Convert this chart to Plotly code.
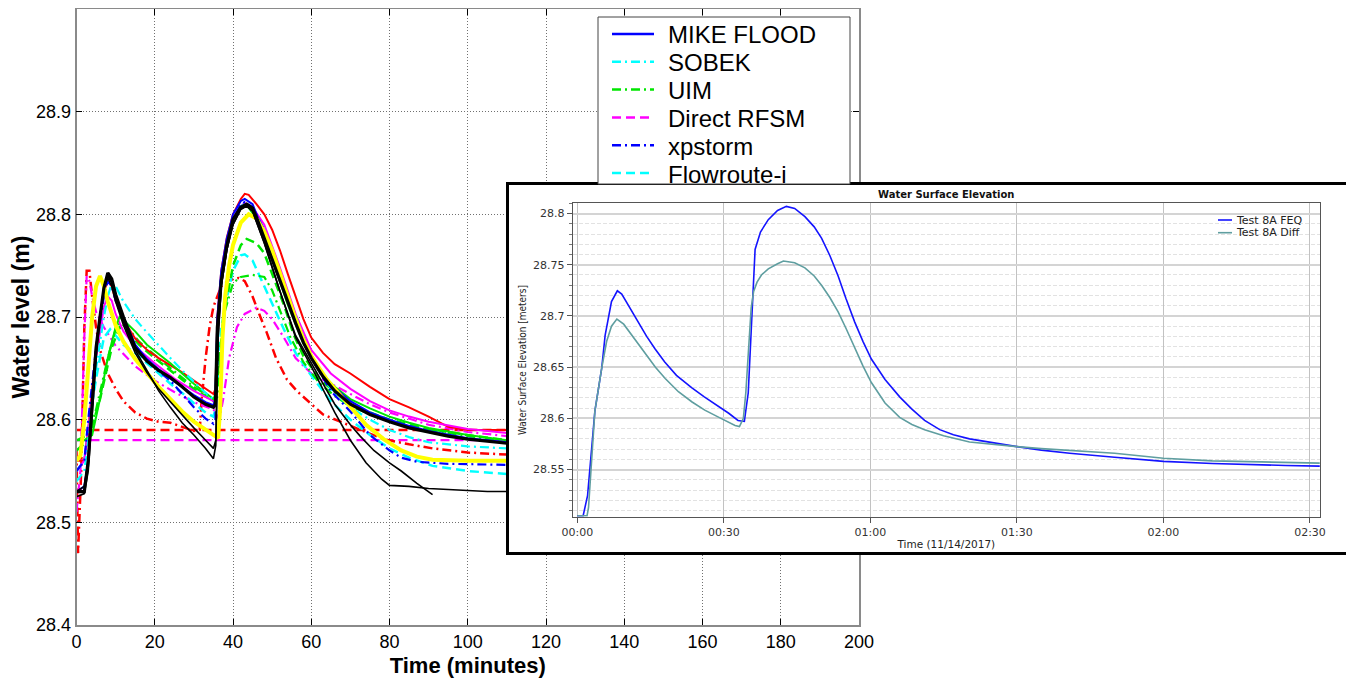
import plotly.graph_objects as go

W, H = 1354, 680
OFF = 8  # the page places the figure 8px from the top-left corner


def px(x):
    return (x - OFF) / W


def py(y):
    return 1 - (y - OFF) / H


# ---------------- main chart data: (time in minutes, water level in m) ----------------
mike_flood = [(0, 28.53), (2, 28.535), (3, 28.56), (4, 28.62), (5, 28.67), (6, 28.70), (7, 28.725), (8, 28.74),
              (9, 28.735), (10, 28.72), (12, 28.70), (15, 28.673), (18, 28.659), (21, 28.649), (24, 28.64),
              (27, 28.632), (30, 28.624), (33, 28.617), (35, 28.614), (35.5, 28.62), (36, 28.70), (37, 28.745),
              (38.4, 28.776), (40, 28.80), (42, 28.813), (43, 28.815), (45, 28.81), (48, 28.781), (52, 28.738),
              (56, 28.697), (60, 28.663), (63, 28.644), (66, 28.631), (70, 28.618), (75, 28.607), (80, 28.60),
              (85, 28.594), (90, 28.589), (100, 28.582), (110, 28.578)]
sobek = [(0, 28.54), (2, 28.55), (3, 28.58), (5, 28.65), (7, 28.70), (8, 28.72), (9, 28.733), (10, 28.73),
         (12, 28.715), (15, 28.698), (18, 28.685), (21, 28.672), (24, 28.66), (27, 28.648), (30, 28.637),
         (33, 28.626), (35, 28.62), (35.5, 28.622), (36, 28.69), (37, 28.74), (38.4, 28.77), (40, 28.795),
         (42, 28.808), (43, 28.81), (45, 28.805), (48, 28.785), (52, 28.742), (56, 28.70), (60, 28.66),
         (65, 28.63), (70, 28.612), (75, 28.60), (80, 28.59), (85, 28.583), (90, 28.578), (100, 28.574),
         (110, 28.572)]
uim = [(0, 28.58), (3, 28.585), (5, 28.61), (8, 28.66), (10, 28.688), (11, 28.694), (13, 28.69), (16, 28.676),
       (20, 28.663), (25, 28.647), (30, 28.632), (35, 28.62), (36, 28.622), (37.5, 28.70), (40, 28.733),
       (42, 28.739), (45, 28.741), (48, 28.739), (50, 28.726), (52, 28.706), (54.6, 28.681), (58, 28.656),
       (62, 28.636), (66, 28.623), (70, 28.613), (80, 28.598), (90, 28.59), (100, 28.584), (110, 28.579)]
direct_rfsm = [(0, 28.58), (110, 28.58)]
xpstorm = [(0, 28.55), (2, 28.56), (3, 28.60), (5, 28.67), (7, 28.72), (8, 28.735), (9, 28.73), (10, 28.716),
           (12, 28.696), (15, 28.671), (18, 28.658), (21, 28.647), (24, 28.638), (27, 28.625), (30, 28.612),
           (33, 28.601), (35, 28.596), (35.5, 28.60), (36, 28.68), (37, 28.74), (38.4, 28.77), (40, 28.795),
           (42, 28.81), (43, 28.812), (45, 28.807), (48, 28.785), (52, 28.74), (56, 28.696), (60, 28.66),
           (65, 28.628), (70, 28.608), (75, 28.585), (80, 28.57), (83, 28.563), (87, 28.559), (95, 28.557),
           (110, 28.556)]
flowroute_i = [(0, 28.55), (2, 28.56), (3, 28.59), (5, 28.64), (7, 28.68), (8.6, 28.688), (10, 28.682),
               (12, 28.673), (15, 28.665), (18, 28.655), (21, 28.645), (24, 28.635), (27, 28.626), (30, 28.616),
               (33, 28.607), (35, 28.603), (35.5, 28.61), (36, 28.64), (37, 28.69), (38.5, 28.72), (40, 28.745),
               (42, 28.76), (43, 28.761), (45, 28.755), (48, 28.73), (50, 28.712), (53, 28.688), (56, 28.665),
               (60, 28.643), (65, 28.618), (70, 28.60), (75, 28.585), (80, 28.572), (85, 28.563), (91, 28.555),
               (100, 28.55), (110, 28.547)]
red_solid = [(0, 28.56), (2, 28.56), (3, 28.59), (4, 28.63), (5, 28.67), (6, 28.70), (7, 28.725), (8, 28.735),
             (9, 28.73), (10, 28.716), (12, 28.697), (15, 28.679), (18, 28.668), (21, 28.66), (24, 28.653),
             (27, 28.646), (30, 28.638), (33, 28.63), (35, 28.625), (35.5, 28.63), (36, 28.70), (37, 28.745),
             (38.4, 28.777), (40, 28.80), (42, 28.815), (43, 28.82), (44, 28.819), (46, 28.81), (48, 28.80),
             (50, 28.785), (52, 28.765), (54, 28.742), (56, 28.72), (58, 28.698), (60, 28.68), (63, 28.665),
             (66, 28.654), (70, 28.645), (75, 28.632), (80, 28.62), (85, 28.612), (90, 28.603), (95, 28.593),
             (100, 28.59), (110, 28.59)]
red_dashdot = [(0, 28.57), (0.4, 28.47), (1.2, 28.55), (2, 28.69), (2.6, 28.745), (3.3, 28.745), (4, 28.72),
               (5, 28.69), (6, 28.668), (8, 28.645), (10, 28.63), (12, 28.618), (15, 28.607), (18, 28.601),
               (21, 28.598), (24, 28.597), (27, 28.593), (30, 28.589), (31.5, 28.59), (32, 28.62), (33, 28.66),
               (34, 28.69), (35, 28.71), (37, 28.73), (39, 28.736), (41.5, 28.738), (43, 28.735), (45, 28.72),
               (47, 28.70), (48.6, 28.685), (51, 28.66), (53.8, 28.639), (56.3, 28.628), (60, 28.615),
               (63, 28.605), (70, 28.594), (78.5, 28.581), (85, 28.576), (91, 28.572), (100, 28.568),
               (110, 28.566)]
red_dashed = [(0, 28.59), (110, 28.59)]
magenta_solid = [(0, 28.55), (2, 28.56), (3, 28.59), (5, 28.66), (7, 28.71), (8, 28.72), (9, 28.716),
                 (10, 28.703), (12, 28.686), (15, 28.671), (20, 28.655), (25, 28.64), (30, 28.628), (35, 28.618),
                 (35.5, 28.622), (36, 28.69), (37, 28.74), (38.4, 28.772), (40, 28.796), (42, 28.808),
                 (43, 28.811), (45, 28.807), (48, 28.79), (52, 28.748), (56, 28.703), (60, 28.668), (65, 28.645),
                 (70, 28.63), (75, 28.618), (80, 28.609), (85, 28.603), (90, 28.598), (100, 28.591),
                 (110, 28.587)]
magenta_dashdot = [(0, 28.51), (1, 28.55), (2, 28.68), (2.6, 28.74), (3.3, 28.735), (4, 28.72), (5, 28.705),
                   (7, 28.69), (10, 28.672), (15, 28.652), (20, 28.638), (25, 28.627), (30, 28.617), (35, 28.61),
                   (36.5, 28.60), (37.5, 28.62), (39, 28.66), (41, 28.69), (43, 28.703), (46, 28.709),
                   (48, 28.706), (50, 28.698), (53, 28.68), (56, 28.66), (60, 28.645), (65, 28.635), (70, 28.625),
                   (75, 28.615), (80, 28.607), (90, 28.595), (100, 28.588), (110, 28.584)]
green_solid = [(0, 28.58), (2, 28.58), (4, 28.585), (6, 28.62), (8, 28.66), (10, 28.69), (11, 28.70),
               (12, 28.697), (15, 28.686), (18, 28.673), (21, 28.664), (24, 28.655), (27, 28.645), (30, 28.635),
               (33, 28.626), (35, 28.62), (35.5, 28.625), (36, 28.69), (37, 28.74), (38.4, 28.77), (40, 28.795),
               (42, 28.806), (43.5, 28.809), (46, 28.796), (50, 28.757), (54, 28.712), (58, 28.674),
               (62, 28.647), (66, 28.632), (70, 28.62), (75, 28.611), (80, 28.603), (85, 28.597), (90, 28.592),
               (100, 28.585), (110, 28.58)]
green_dashed = [(0, 28.57), (3, 28.58), (6, 28.62), (9, 28.67), (11, 28.69), (13, 28.686), (16, 28.673),
                (20, 28.66), (25, 28.645), (30, 28.63), (35, 28.618), (35.5, 28.62), (36.5, 28.66), (38, 28.71),
                (40, 28.75), (42, 28.77), (43.5, 28.776), (46, 28.772), (48, 28.762), (50, 28.742),
                (53, 28.712), (55.5, 28.683), (58, 28.662), (62, 28.64), (66, 28.627), (70, 28.614),
                (80, 28.60), (90, 28.591), (100, 28.585), (110, 28.58)]
yellow_thick = [(0, 28.56), (1, 28.565), (2, 28.60), (3, 28.65), (4, 28.70), (5, 28.73), (6, 28.74), (7, 28.73),
                (8, 28.715), (10, 28.692), (12, 28.676), (15, 28.659), (18, 28.645), (21, 28.632), (24, 28.62),
                (27, 28.608), (30, 28.598), (33, 28.59), (35, 28.585), (36.2, 28.582), (36.7, 28.61),
                (37.3, 28.68), (38, 28.72), (39, 28.75), (40, 28.77), (42, 28.792), (44, 28.80), (46, 28.796),
                (48, 28.783), (50, 28.765), (52, 28.743), (54, 28.72), (56, 28.698), (58, 28.678),
                (60, 28.662), (64, 28.639), (70, 28.613), (74, 28.595), (78.5, 28.581), (83, 28.57),
                (87, 28.564), (91, 28.561), (100, 28.56), (110, 28.56)]
black_thin_a = [(0, 28.525), (2, 28.528), (3, 28.55), (4, 28.61), (5, 28.66), (6, 28.70), (7, 28.73), (8, 28.74),
                (9, 28.733), (10, 28.718), (12, 28.695), (15, 28.668), (18, 28.648), (21, 28.628), (24, 28.612),
                (27, 28.597), (30, 28.585), (33, 28.572), (35, 28.562), (35.6, 28.575), (36.2, 28.68),
                (37, 28.73), (38.4, 28.765), (40, 28.79), (42, 28.805), (43.5, 28.808), (45, 28.803),
                (48, 28.772), (52, 28.725), (56, 28.68), (60, 28.652), (63, 28.63), (66, 28.607), (70, 28.58),
                (74, 28.558), (78, 28.542), (80, 28.536), (85, 28.535), (90, 28.533), (95, 28.532),
                (100, 28.531), (105, 28.53), (110, 28.53)]
black_thin_b = [(0, 28.53), (2, 28.535), (3, 28.56), (4, 28.615), (5, 28.665), (6, 28.70), (7, 28.728),
                (8, 28.738), (9, 28.73), (10, 28.715), (12, 28.692), (15, 28.665), (18, 28.646), (21, 28.63),
                (24, 28.617), (27, 28.604), (30, 28.592), (33, 28.58), (35, 28.572), (35.6, 28.58), (36.2, 28.68),
                (37, 28.73), (38.4, 28.765), (40, 28.79), (42, 28.805), (43.5, 28.808), (45, 28.803),
                (48, 28.772), (52, 28.725), (56, 28.682), (60, 28.655), (63, 28.635), (66, 28.615), (70, 28.595),
                (72.5, 28.584), (76, 28.57), (80, 28.558), (83, 28.55), (87, 28.538), (91, 28.527)]
black_thick = [(0, 28.53), (2, 28.53), (3, 28.56), (4, 28.62), (5, 28.67), (6, 28.70), (7, 28.728), (8, 28.743),
               (9, 28.737), (10, 28.722), (12, 28.70), (15, 28.67), (18, 28.657), (21, 28.648), (24, 28.641),
               (27, 28.632), (30, 28.622), (33, 28.615), (35, 28.612), (35.5, 28.615), (36, 28.69),
               (37, 28.735), (38.4, 28.769), (40, 28.795), (42, 28.807), (43.5, 28.81), (45, 28.806),
               (46, 28.797), (48, 28.777), (50, 28.756), (52, 28.735), (54, 28.715), (56, 28.694),
               (58, 28.675), (60, 28.66), (63, 28.642), (66, 28.628), (70, 28.615), (75, 28.605), (80, 28.598),
               (85, 28.592), (90, 28.588), (95, 28.584), (100, 28.581), (105, 28.579), (110, 28.577)]

x_ticks = [0, 20, 40, 60, 80, 100, 120, 140, 160, 180, 200]
y_ticks = [28.4, 28.5, 28.6, 28.7, 28.8, 28.9]
y_ticklabels = ["28.4", "28.5", "28.6", "28.7", "28.8", "28.9"]
legend_names = ["MIKE FLOOD", "SOBEK", "UIM", "Direct RFSM", "xpstorm", "Flowroute-i"]

# ---------------- inset data: (minutes since 00:00, elevation in m) ----------------
feq = [(0, 28.505), (1.2, 28.505), (2.1, 28.5245), (3.6, 28.607), (5.0, 28.649), (5.7, 28.681), (7.0, 28.714),
       (8.2, 28.7246), (9.1, 28.7214), (10.5, 28.71), (12.5, 28.694), (14.2, 28.68), (15.9, 28.668),
       (17.9, 28.655), (20.3, 28.642), (23.4, 28.63), (26.0, 28.621), (28.9, 28.612), (31.0, 28.605),
       (32.9, 28.598), (34.2, 28.597), (35.0, 28.625), (35.7, 28.70), (36.4, 28.765), (37.5, 28.782),
       (39.1, 28.794), (41.0, 28.803), (42.8, 28.807), (44.5, 28.805), (46.6, 28.797), (48.5, 28.787),
       (50.0, 28.776), (51.7, 28.759), (53.4, 28.739), (55.0, 28.717), (56.8, 28.694), (58.5, 28.675),
       (60.2, 28.658), (63.0, 28.638), (66.0, 28.621), (68.5, 28.609), (71.1, 28.598), (74.2, 28.589),
       (77.0, 28.584), (80.3, 28.580), (85.0, 28.576), (90.0, 28.5724), (95.0, 28.569), (100.8, 28.566),
       (110.0, 28.562), (120.0, 28.558), (130.0, 28.556), (138.3, 28.5547), (145.0, 28.554), (152.0, 28.5534)]
diff = [(0, 28.505), (2.0, 28.505), (2.3, 28.513), (3.6, 28.607), (5.0, 28.649), (6.0, 28.675), (7.0, 28.69),
        (8.1, 28.697), (9.5, 28.692), (11.5, 28.679), (13.9, 28.663), (16.0, 28.65), (18.0, 28.639),
        (20.7, 28.626), (23.5, 28.616), (26.1, 28.608), (29.0, 28.601), (31.0, 28.596), (32.3, 28.593),
        (33.2, 28.592), (34.0, 28.60), (34.5, 28.625), (35.2, 28.68), (35.6, 28.708), (36.1, 28.724),
        (36.8, 28.733), (37.7, 28.74), (39.1, 28.746), (41.0, 28.751), (42.2, 28.7536), (44.5, 28.752),
        (46.6, 28.747), (48.5, 28.739), (50.0, 28.73), (51.7, 28.718), (53.4, 28.704), (55.0, 28.688),
        (56.8, 28.669), (58.5, 28.651), (60.2, 28.635), (63.0, 28.615), (66.0, 28.601), (68.5, 28.594),
        (71.1, 28.589), (75.0, 28.583), (80.3, 28.577), (85.0, 28.5745), (90.0, 28.5724), (95.0, 28.5705),
        (100.8, 28.569), (110.0, 28.566), (120.0, 28.561), (130.0, 28.5585), (140.0, 28.5575), (152.0, 28.5563)]

inset_x_ticks = [0, 30, 60, 90, 120, 150]
inset_x_ticklabels = ["00:00", "00:30", "01:00", "01:30", "02:00", "02:30"]
inset_y_ticks = [28.55, 28.6, 28.65, 28.7, 28.75, 28.8]
inset_y_ticklabels = ["28.55", "28.6", "28.65", "28.7", "28.75", "28.8"]
inset_names = ["Test 8A FEQ", "Test 8A Diff"]

# ---------------- styles ----------------
DASH = "9px,5px"
DASHDOT = "9px,4px,2px,4px"
BLUE, CYAN, GREEN, MAGENTA, RED, YELLOW = "#0000ff", "#00ffff", "#00e600", "#ff00ff", "#ff0000", "#ffff00"

main_traces = [
    ("Red dashed", red_dashed, RED, DASH, 2.5),
    ("Direct RFSM", direct_rfsm, MAGENTA, DASH, 2.2),
    ("Red dash-dot", red_dashdot, RED, DASHDOT, 2.5),
    ("Magenta dash-dot", magenta_dashdot, MAGENTA, DASHDOT, 2.2),
    ("Flowroute-i", flowroute_i, CYAN, DASH, 2.5),
    ("UIM", uim, GREEN, DASHDOT, 2.2),
    ("Green dashed", green_dashed, GREEN, DASH, 2.5),
    ("Red solid", red_solid, RED, "solid", 2),
    ("Magenta solid", magenta_solid, MAGENTA, "solid", 2),
    ("Green solid", green_solid, GREEN, "solid", 2),
    ("SOBEK", sobek, CYAN, DASHDOT, 2.2),
    ("xpstorm", xpstorm, BLUE, DASHDOT, 2.2),
    ("MIKE FLOOD", mike_flood, BLUE, "solid", 2),
    ("Yellow", yellow_thick, YELLOW, "solid", 4),
    ("Black thin A", black_thin_a, "black", "solid", 1.6),
    ("Black thin B", black_thin_b, "black", "solid", 1.6),
    ("Black thick", black_thick, "black", "solid", 3.2),
]
legend_style = {
    "MIKE FLOOD": (BLUE, "solid"),
    "SOBEK": (CYAN, DASHDOT),
    "UIM": (GREEN, DASHDOT),
    "Direct RFSM": (MAGENTA, DASH),
    "xpstorm": (BLUE, DASHDOT),
    "Flowroute-i": (CYAN, DASH),
}

fig = go.Figure()

for name, pts, color, dash, width in main_traces:
    fig.add_trace(go.Scatter(
        x=[p[0] for p in pts], y=[p[1] for p in pts], mode="lines", name=name,
        line=dict(color=color, dash=dash, width=width), xaxis="x", yaxis="y",
        showlegend=False, hoverinfo="skip"))

# outer frame of the inset (blank subplot whose background hides the main chart)
fig.add_trace(go.Scatter(x=[0.5], y=[0.5], mode="markers", marker=dict(opacity=0),
                         xaxis="x2", yaxis="y2", showlegend=False, hoverinfo="skip"))

inset_colors = ["#1414ff", "#5f9ea0"]
for name, pts, color in zip(inset_names, [feq, diff], inset_colors):
    fig.add_trace(go.Scatter(
        x=[p[0] for p in pts], y=[p[1] for p in pts], mode="lines", name=name,
        line=dict(color=color, width=1.6),
        xaxis="x3", yaxis="y3", showlegend=False, hoverinfo="skip"))

ARIAL = "Arial, Liberation Sans, sans-serif"
DJ = "DejaVu Sans, Verdana, sans-serif"
DJC = "DejaVu Sans Condensed, Liberation Sans Narrow, Arial Narrow, sans-serif"

shapes = []
annotations = []

# main legend (manual, partially hidden under the inset like the original)
shapes.append(dict(type="rect", xref="paper", yref="paper", x0=px(598), x1=px(850), y0=py(184), y1=py(17),
                   fillcolor="white", line=dict(color="#444444", width=1), layer="above"))
leg_y0, leg_dy = 34, 27.8
for i, nm in enumerate(legend_names):
    yy = leg_y0 + i * leg_dy
    col, dsh = legend_style[nm]
    shapes.append(dict(type="line", xref="paper", yref="paper", x0=px(612), x1=px(654), y0=py(yy), y1=py(yy),
                       line=dict(color=col, dash=dsh, width=2.5), layer="above"))
    annotations.append(dict(xref="paper", yref="paper", x=px(666), y=py(yy + 1), text=nm, showarrow=False,
                            xanchor="left", yanchor="middle", font=dict(family=ARIAL, size=24, color="black")))

# inset title and legend
annotations.append(dict(xref="paper", yref="paper", x=px(946), y=py(194), text="<b>Water Surface Elevation</b>",
                        showarrow=False, xanchor="center", yanchor="middle",
                        font=dict(family=DJ, size=10, color="#111111")))
for i, (nm, col) in enumerate(zip(inset_names, inset_colors)):
    yy = 220 + i * 12.7
    shapes.append(dict(type="line", xref="paper", yref="paper", x0=px(1218), x1=px(1232), y0=py(yy), y1=py(yy),
                       line=dict(color=col, width=1.6), layer="above"))
    annotations.append(dict(xref="paper", yref="paper", x=px(1234), y=py(yy), text=nm, showarrow=False,
                            xanchor="left", yanchor="middle", font=dict(family=DJ, size=11, color="#222222")))

fig.update_layout(
    width=W, height=H,
    margin=dict(l=0, r=0, t=0, b=0, autoexpand=False),
    paper_bgcolor="white", plot_bgcolor="white", showlegend=False,
    font=dict(family=ARIAL, color="black"),
    xaxis=dict(domain=[px(76.5), px(859)], range=[0, 200], tickvals=x_ticks, anchor="y",
               showgrid=True, gridcolor="#707070", griddash="1px,2px", gridwidth=1,
               showline=True, linecolor="#8a8a8a", linewidth=1.5, mirror="ticks",
               ticks="inside", ticklen=6, tickcolor="black", zeroline=False,
               tickfont=dict(family=ARIAL, size=18, color="black"),
               title=dict(text="<b>Time (minutes)</b>", font=dict(family=ARIAL, size=22, color="black"),
                          standoff=6)),
    yaxis=dict(domain=[py(625), py(9)], range=[28.4, 29.0], tickvals=y_ticks, ticktext=y_ticklabels,
               anchor="x", showgrid=True, gridcolor="#707070", griddash="1px,2px", gridwidth=1,
               showline=True, linecolor="#8a8a8a", linewidth=1.5, mirror="ticks",
               ticks="inside", ticklen=6, tickcolor="black", zeroline=False,
               tickfont=dict(family=ARIAL, size=18, color="black"),
               title=dict(text="<b>Water level (m)</b>", font=dict(family=ARIAL, size=23, color="black"),
                          standoff=0)),
    xaxis2=dict(domain=[px(508.5), px(1347)], range=[0, 1], anchor="y2", showgrid=False, zeroline=False,
                showticklabels=False, ticks="", showline=True, mirror=True, linecolor="black", linewidth=3),
    yaxis2=dict(domain=[py(552), py(184.5)], range=[0, 1], anchor="x2", showgrid=False, zeroline=False,
                showticklabels=False, ticks="", showline=True, mirror=True, linecolor="black", linewidth=3),
    xaxis3=dict(domain=[px(572.7), px(1320)], range=[-0.94, 152.05], anchor="y3",
                tickvals=inset_x_ticks, ticktext=inset_x_ticklabels,
                showgrid=True, gridcolor="#c2c2c2", gridwidth=1, zeroline=False,
                showline=True, mirror=True, linecolor="#555555", linewidth=1,
                ticks="outside", ticklen=5, tickcolor="#555555",
                tickfont=dict(family=DJ, size=11, color="#333333"),
                title=dict(text="Time (11/14/2017)", font=dict(family=DJ, size=10.5, color="#222222"),
                           standoff=2)),
    yaxis3=dict(domain=[py(516.7), py(203.3)], range=[28.504, 28.81], anchor="x3",
                tickvals=inset_y_ticks, ticktext=inset_y_ticklabels,
                showgrid=True, gridcolor="#d4d4d4", gridwidth=1.5, zeroline=False,
                showline=True, mirror=True, linecolor="#555555", linewidth=1,
                ticks="outside", ticklen=5, tickcolor="#555555",
                tickfont=dict(family=DJ, size=11, color="#333333"),
                minor=dict(dtick=0.01, tick0=28.5, showgrid=True, gridcolor="#e2e2e2", griddash="4px,2px",
                           gridwidth=1, ticks="outside", ticklen=3, tickcolor="#777777"),
                title=dict(text="Water Surface Elevation [meters]",
                           font=dict(family=DJC, size=10, color="#222222"), standoff=4)),
    shapes=shapes,
    annotations=annotations,
)

fig.write_html("out.html")
